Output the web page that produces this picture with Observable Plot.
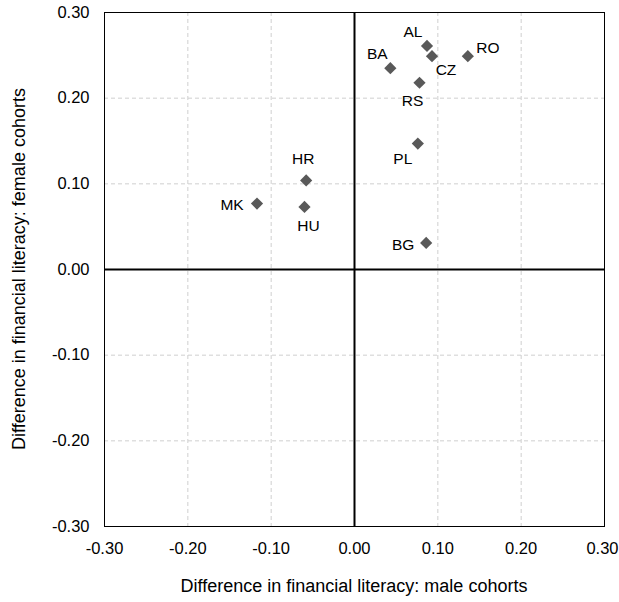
<!DOCTYPE html>
<html>
<head>
<meta charset="utf-8">
<script src="https://cdn.jsdelivr.net/npm/d3@7"></script>
<script src="https://cdn.jsdelivr.net/npm/@observablehq/plot@0.6"></script>
<style>
  html, body { margin: 0; padding: 0; background: #fff; }
  #chart { width: 619px; height: 602px; }
</style>
</head>
<body>
<div id="chart"></div>
<script>
const countries = ["AL", "CZ", "RO", "BA", "RS", "PL", "BG", "HR", "MK", "HU"];
const maleDiff = [0.087, 0.093, 0.136, 0.043, 0.078, 0.076, 0.086, -0.058, -0.117, -0.060];
const femaleDiff = [0.261, 0.249, 0.249, 0.235, 0.218, 0.147, 0.031, 0.104, 0.077, 0.073];
const ticks = [-0.3, -0.2, -0.1, 0, 0.1, 0.2, 0.3];
const xTitle = "Difference in financial literacy: male cohorts";
const yTitle = "Difference in financial literacy: female cohorts";

// label placement (style, in pixels)
const labelOffset = {
  AL: [-14, -14], CZ: [14, 14], RO: [20, -8], BA: [-13, -14], RS: [-7, 18],
  PL: [-15, 15], BG: [-23, 2], HR: [-3, -21], MK: [-25, 1], HU: [4, 19]
};

const data = countries.map((c, i) => ({ c, x: maleDiff[i], y: femaleDiff[i] }));
const fmt = d => d.toFixed(2);
const lastTick = ticks[ticks.length - 1];

const labelMarks = data.map(d => Plot.text([d], {
  x: "x", y: "y", text: "c",
  dx: labelOffset[d.c][0], dy: labelOffset[d.c][1],
  fontSize: 15.5, fill: "#000"
}));

const chart = Plot.plot({
  width: 619,
  height: 602,
  marginLeft: 104,
  marginRight: 15,
  marginTop: 12,
  marginBottom: 76,
  style: { fontFamily: "Arial, 'Liberation Sans', sans-serif", fontSize: "16px", background: "#fff", color: "#000" },
  x: { domain: [-0.3, 0.3] },
  y: { domain: [-0.3, 0.3] },
  marks: [
    Plot.gridX(ticks, { stroke: "#cfcfcf", strokeOpacity: 1, strokeDasharray: "4,3" }),
    Plot.gridY(ticks, { stroke: "#cfcfcf", strokeOpacity: 1, strokeDasharray: "4,3" }),
    Plot.frame({ stroke: "#000", strokeWidth: 1 }),
    Plot.ruleX([0], { stroke: "#000", strokeWidth: 2 }),
    Plot.ruleY([0], { stroke: "#000", strokeWidth: 2 }),
    Plot.axisX(ticks.filter(t => t !== lastTick), { tickSize: 0, tickPadding: 16, tickFormat: fmt, fontSize: 16.5, label: null }),
    Plot.axisX([lastTick], { tickSize: 0, tickPadding: 16, tickFormat: fmt, fontSize: 16.5, label: null, textAnchor: "end", dx: 14 }),
    Plot.axisY(ticks, { tickSize: 0, tickPadding: 15, tickFormat: fmt, fontSize: 16.5, label: null }),
    Plot.dot(data, { x: "x", y: "y", symbol: "diamond2", r: 5.5, fill: "#595959", stroke: "none" }),
    ...labelMarks
  ]
});

const container = document.getElementById("chart");
container.appendChild(chart);

// axis titles as SVG text
const svg = d3.select(chart);
svg.append("text")
  .attr("x", 354).attr("y", 592)
  .attr("text-anchor", "middle")
  .style("font-size", "18px")
  .attr("fill", "#000")
  .text(xTitle);
svg.append("text")
  .attr("transform", "translate(25,269) rotate(-90)")
  .attr("text-anchor", "middle")
  .style("font-size", "18px")
  .attr("fill", "#000")
  .text(yTitle);
</script>
</body>
</html>
